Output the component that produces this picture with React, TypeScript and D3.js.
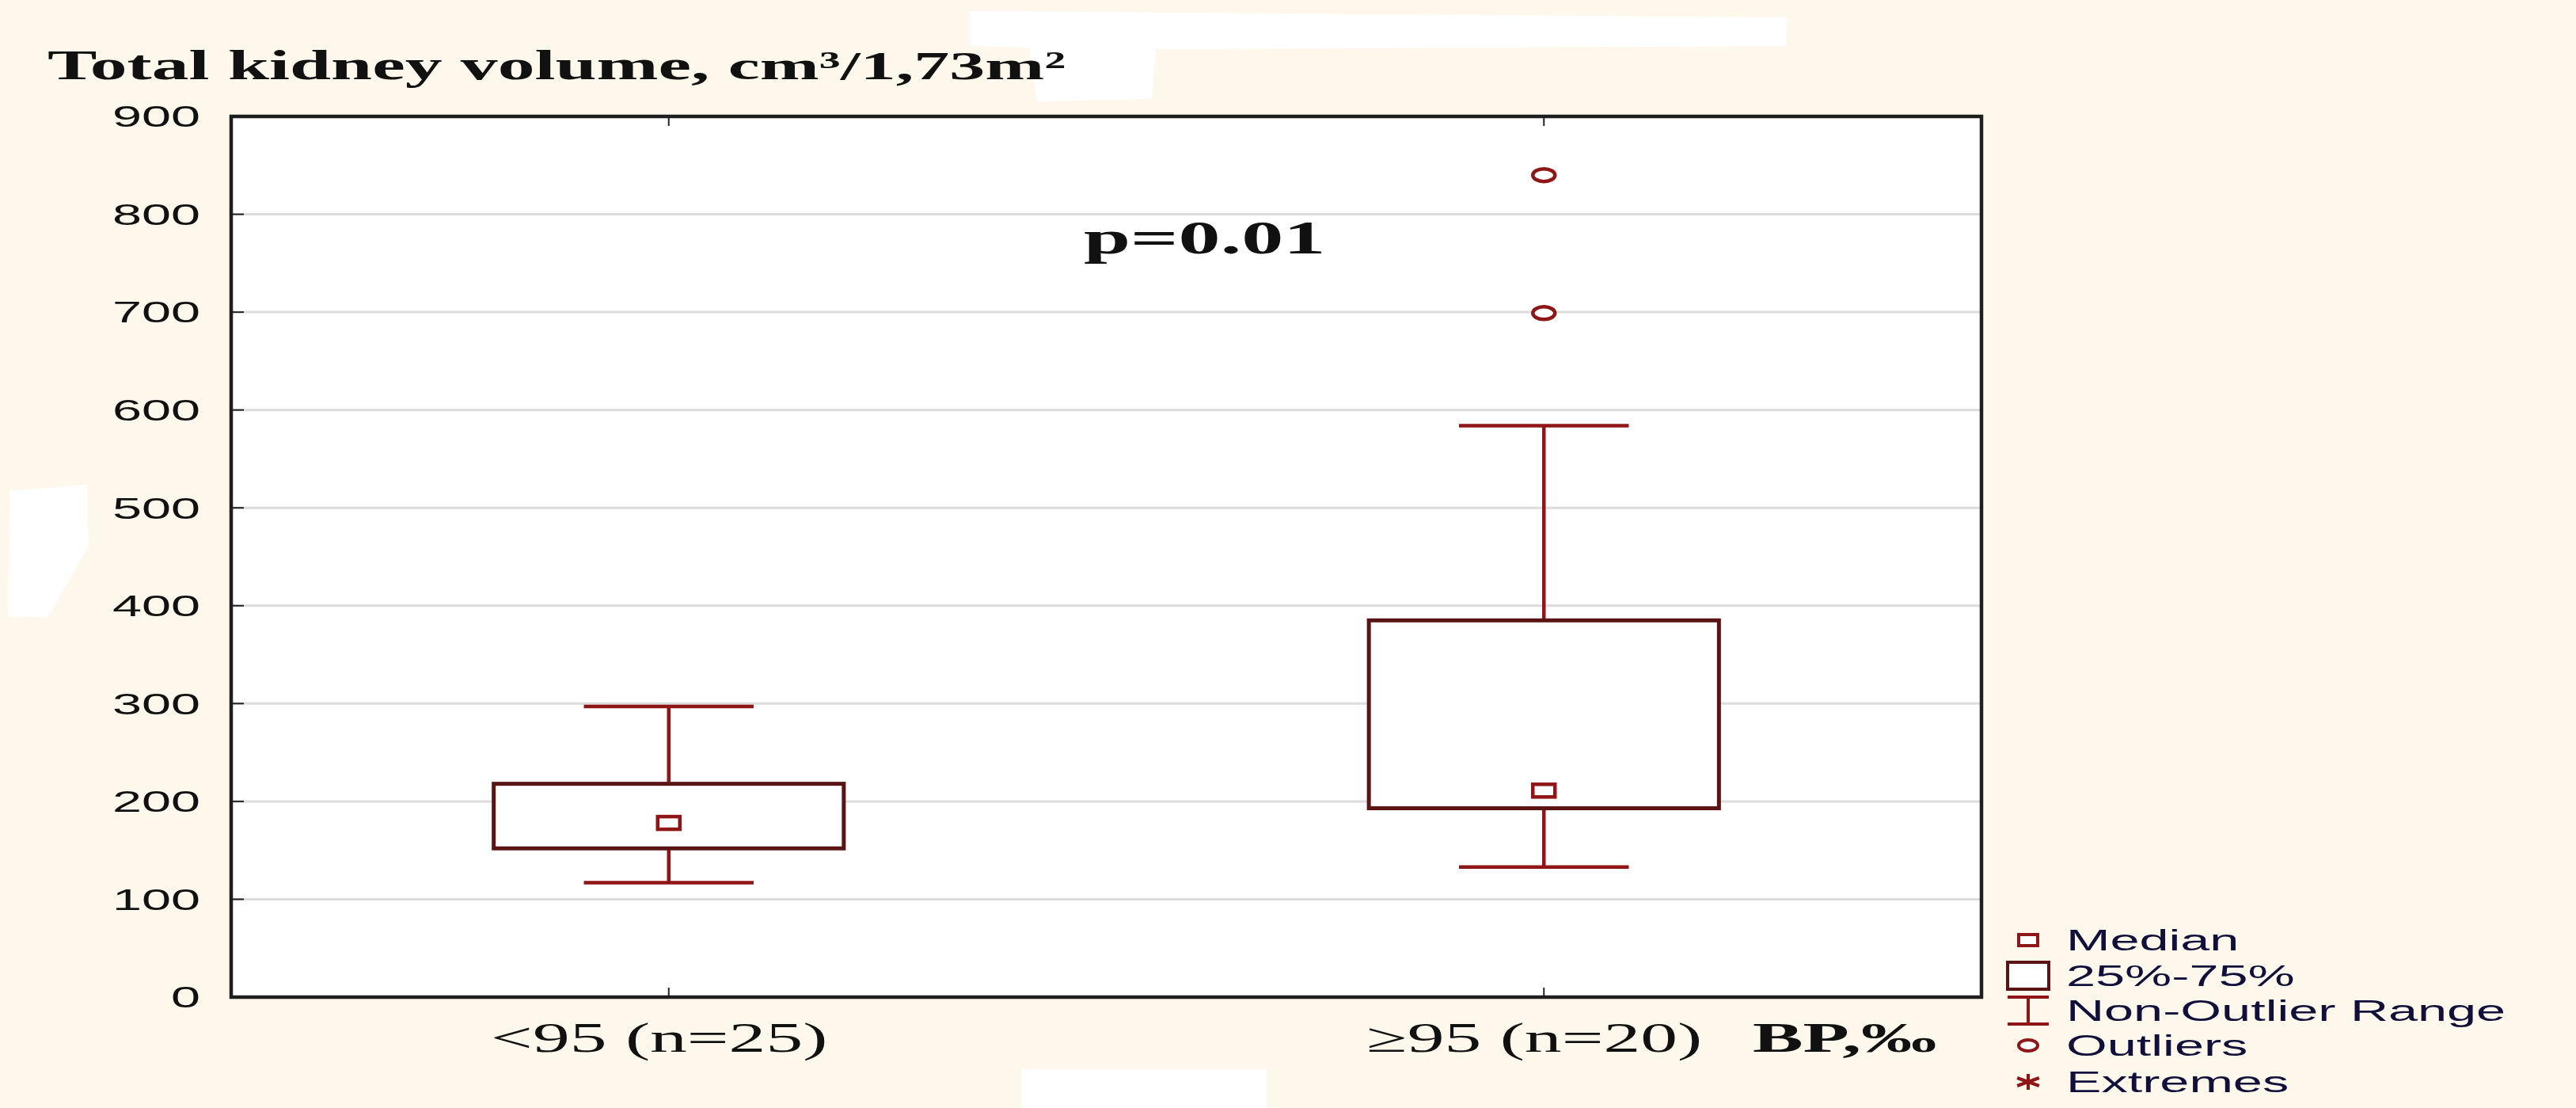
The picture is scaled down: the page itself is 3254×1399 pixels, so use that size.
import * as d3 from "d3";

// group labels and box-plot statistics
const categories = ["<95 (n=25)", "\u226595 (n=20)"];
const whiskerLow = [117, 133];
const q1 = [152, 193];
const medians = [178, 211];
const q3 = [218, 385];
const whiskerHigh = [297, 584];
const outliers = [[], [699, 840]];
const yTicks = [0, 100, 200, 300, 400, 500, 600, 700, 800, 900];

const legendItems = ["Median", "25%-75%", "Non-Outlier Range", "Outliers", "Extremes"];

const W = 3254;
const H = 1399;
const plot = { left: 292, right: 2503, top: 147, bottom: 1259 };

const BG = "#FEF8EC";
const WHISKER = "#8E1616";
const BOX = "#5A1414";
const GRID = "#DCDCDC";
const SX = 1.8; // the source picture is stretched sideways

const SANS = "'Liberation Sans', Arial, sans-serif";
const SERIF = "'Liberation Serif', 'Times New Roman', serif";

function Stretch(props: {
  x: number;
  y: number;
  anchor?: "start" | "middle" | "end";
  size: number;
  family: string;
  weight?: string | number;
  fill?: string;
  dy?: string;
  children: React.ReactNode;
}) {
  const { x, y, anchor = "start", size, family, weight = "normal", fill = "#111", dy, children } = props;
  return (
    <text
      transform={`translate(${x},${y}) scale(${SX},1)`}
      textAnchor={anchor}
      fontSize={size}
      fontFamily={family}
      fontWeight={weight}
      fill={fill}
      dy={dy}
    >
      {children}
    </text>
  );
}

export default function App() {
  const x = d3
    .scalePoint<string>()
    .domain(categories)
    .range([plot.left, plot.right])
    .padding(0.5);
  const y = d3.scaleLinear().domain([0, 900]).range([plot.bottom, plot.top]);

  const plotW = plot.right - plot.left;
  const boxHalf = plotW * 0.1;
  const capHalf = boxHalf * 0.485;

  const legendX = 2562;
  const legendRows = [1187, 1232, 1276, 1320, 1366];

  return (
    <svg
      width={W}
      height={H}
      style={{ position: "fixed", left: 0, top: 0, display: "block" }}
    >
      <rect width={W} height={H} fill={BG} />
      {/* white scan patches of the source */}
      <g fill="#fff">
        <path d="M1225,14 L2258,22 L2256,58 L1460,62 L1455,125 L1310,128 L1300,60 L1225,58 Z" />
        <path d="M12,620 L110,612 L112,690 L60,780 L10,778 Z" />
        <rect x={1290} y={1350} width={310} height={49} />
      </g>

      {/* title */}
      <Stretch x={60} y={100} size={52} family={SERIF} weight="bold">
        Total kidney volume,{" "}
        <tspan fontSize={50}>cm³/1,73m²</tspan>
      </Stretch>

      {/* plot area */}
      <rect
        x={plot.left}
        y={plot.top}
        width={plotW}
        height={plot.bottom - plot.top}
        fill="#fff"
      />
      {yTicks.slice(1, -1).map((t) => (
        <line
          key={`g${t}`}
          x1={plot.left}
          x2={plot.right}
          y1={y(t)}
          y2={y(t)}
          stroke={GRID}
          strokeWidth={3}
        />
      ))}

      {/* ticks */}
      {yTicks.map((t) => (
        <line
          key={`t${t}`}
          x1={plot.left}
          x2={plot.left + 16}
          y1={y(t)}
          y2={y(t)}
          stroke="#222"
          strokeWidth={2}
        />
      ))}
      {categories.map((c) => (
        <g key={`ct${c}`}>
          <line x1={x(c)} x2={x(c)} y1={plot.top} y2={plot.top + 12} stroke="#222" strokeWidth={2} />
          <line x1={x(c)} x2={x(c)} y1={plot.bottom} y2={plot.bottom - 12} stroke="#222" strokeWidth={2} />
        </g>
      ))}

      {/* boxes */}
      {categories.map((c, i) => {
        const cx = x(c)!;
        return (
          <g key={`b${c}`}>
            <line x1={cx} x2={cx} y1={y(whiskerHigh[i])} y2={y(q3[i])} stroke={WHISKER} strokeWidth={4.5} />
            <line x1={cx} x2={cx} y1={y(q1[i])} y2={y(whiskerLow[i])} stroke={WHISKER} strokeWidth={4.5} />
            <line
              x1={cx - capHalf}
              x2={cx + capHalf}
              y1={y(whiskerHigh[i])}
              y2={y(whiskerHigh[i])}
              stroke={WHISKER}
              strokeWidth={4.5}
            />
            <line
              x1={cx - capHalf}
              x2={cx + capHalf}
              y1={y(whiskerLow[i])}
              y2={y(whiskerLow[i])}
              stroke={WHISKER}
              strokeWidth={4.5}
            />
            <rect
              x={cx - boxHalf}
              y={y(q3[i])}
              width={boxHalf * 2}
              height={y(q1[i]) - y(q3[i])}
              fill="#fff"
              stroke={BOX}
              strokeWidth={5}
            />
            <rect
              x={cx - 14}
              y={y(medians[i]) - 8}
              width={28}
              height={16}
              fill="#fff"
              stroke={WHISKER}
              strokeWidth={4.5}
            />
            {outliers[i].map((v) => (
              <ellipse
                key={`o${v}`}
                cx={cx}
                cy={y(v)}
                rx={14}
                ry={8}
                fill="#fff"
                stroke={WHISKER}
                strokeWidth={4.5}
              />
            ))}
          </g>
        );
      })}

      {/* frame */}
      <rect
        x={plot.left}
        y={plot.top}
        width={plotW}
        height={plot.bottom - plot.top}
        fill="none"
        stroke="#1E1E1E"
        strokeWidth={4.5}
      />

      {/* y tick labels */}
      {yTicks.map((t) => (
        <Stretch key={`yl${t}`} x={253} y={y(t)} dy="0.36em" anchor="end" size={37} family={SANS}>
          {t}
        </Stretch>
      ))}

      {/* x labels */}
      {categories.map((c) => (
        <Stretch key={`xl${c}`} x={x(c)! - 12} y={1328} anchor="middle" size={52} family={SERIF}>
          {c}
        </Stretch>
      ))}
      <Stretch x={2214} y={1328} size={53} family={SERIF} weight="bold">
        BP,‰
      </Stretch>

      {/* p value */}
      <Stretch x={1369} y={320} size={59} family={SERIF} weight="bold">
        p=0.01
      </Stretch>

      {/* legend */}
      <g>
        <rect x={legendX - 12} y={legendRows[0] - 7} width={24} height={14} fill="#fff" stroke={WHISKER} strokeWidth={4} />
        <rect x={legendX - 26} y={legendRows[1] - 17} width={52} height={34} fill="#fff" stroke={BOX} strokeWidth={4} />
        <line x1={legendX - 26} x2={legendX + 26} y1={legendRows[2] - 17} y2={legendRows[2] - 17} stroke={WHISKER} strokeWidth={4} />
        <line x1={legendX - 26} x2={legendX + 26} y1={legendRows[2] + 17} y2={legendRows[2] + 17} stroke={WHISKER} strokeWidth={4} />
        <line x1={legendX} x2={legendX} y1={legendRows[2] - 17} y2={legendRows[2] + 17} stroke={WHISKER} strokeWidth={4} />
        <ellipse cx={legendX} cy={legendRows[3]} rx={12} ry={7} fill="#fff" stroke={WHISKER} strokeWidth={4} />
        <g stroke={WHISKER} strokeWidth={4}>
          {[0, 60, 120].map((a) => {
            const r = (a * Math.PI) / 180;
            return (
              <line
                key={a}
                x1={legendX - Math.sin(r) * 16}
                x2={legendX + Math.sin(r) * 16}
                y1={legendRows[4] - Math.cos(r) * 10}
                y2={legendRows[4] + Math.cos(r) * 10}
              />
            );
          })}
        </g>
        {legendItems.map((label, i) => (
          <Stretch key={label} x={2610} y={legendRows[i]} dy="0.36em" size={37} family={SANS} fill="#10103A">
            {label}
          </Stretch>
        ))}
      </g>
    </svg>
  );
}
